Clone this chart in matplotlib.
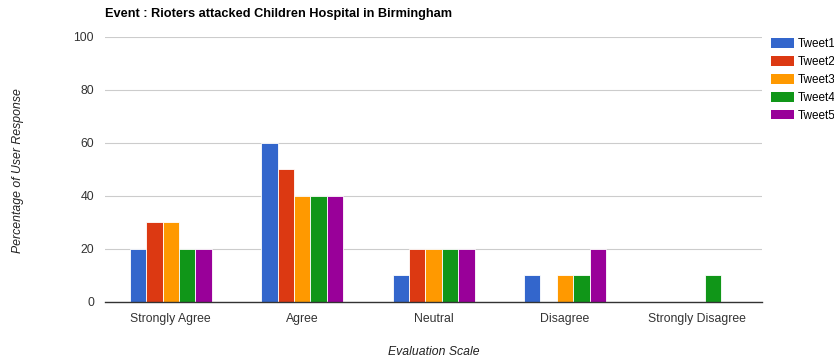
import numpy as np
import matplotlib.pyplot as plt
from matplotlib.patches import Patch

plt.rcParams['font.family'] = ['Liberation Sans', 'DejaVu Sans']

categories = ['Strongly Agree', 'Agree', 'Neutral', 'Disagree', 'Strongly Disagree']
series_names = ['Tweet1', 'Tweet2', 'Tweet3', 'Tweet4', 'Tweet5']
tweet1 = [20, 60, 10, 10, 0]
tweet2 = [30, 50, 20, 0, 0]
tweet3 = [30, 40, 20, 10, 0]
tweet4 = [20, 40, 20, 10, 10]
tweet5 = [20, 40, 20, 20, 0]
colors = ['#3366cc', '#dc3912', '#ff9900', '#109618', '#990099']

fig = plt.figure(figsize=(8.34, 3.62), dpi=100)
ax = fig.add_axes([0.126, 0.166, 0.788, 0.732])

x = np.arange(len(categories))
w = 0.125
for i, (vals, c) in enumerate(zip([tweet1, tweet2, tweet3, tweet4, tweet5], colors)):
    ax.bar(x + (i - 2) * w, vals, width=w, color=c, edgecolor='white', linewidth=0.6)

ax.set_xlim(-0.5, len(categories) - 0.5)
ax.set_ylim(0, 100)
ax.set_yticks(range(0, 101, 20))
ax.set_xticks(x)
ax.set_xticklabels(categories)
ax.grid(axis='y', color='#cccccc', linewidth=0.8)
ax.set_axisbelow(True)
for s in ['top', 'right', 'left']:
    ax.spines[s].set_visible(False)
ax.spines['bottom'].set_color('#333333')
ax.spines['bottom'].set_linewidth(1.0)
ax.tick_params(length=0, labelsize=8.8, labelcolor='#333333')
ax.tick_params(axis='y', pad=8)
ax.tick_params(axis='x', pad=8)

fig.text(0.126, 0.96, 'Event : Rioters attacked Children Hospital in Birmingham',
         fontsize=9.2, fontweight='bold', ha='left', va='center')
fig.text(0.022, 0.53, 'Percentage of User Response', rotation=90, style='italic',
         fontsize=8.8, ha='center', va='center', color='#222222')
fig.text(0.52, 0.027, 'Evaluation Scale', style='italic', fontsize=8.8,
         ha='center', va='center', color='#222222')

# legend to the right of the plot area
handles = [Patch(facecolor=c, edgecolor='none') for c in colors]
fig.legend(handles, series_names, loc='upper left', bbox_to_anchor=(0.925, 0.895),
           frameon=False, fontsize=8.5, handlelength=1.9, handleheight=0.9,
           handletextpad=0.3, labelspacing=0.5, borderaxespad=0, borderpad=0)

fig.savefig('out.png', dpi=100)
